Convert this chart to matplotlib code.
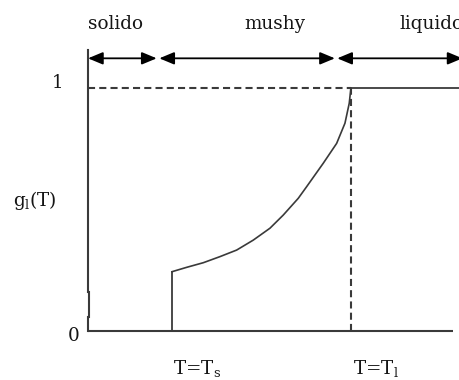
import matplotlib
matplotlib.use("Agg")
import matplotlib.pyplot as plt
from matplotlib.patches import FancyArrowPatch

plt.rcParams['font.family'] = ['DejaVu Serif']
plt.rcParams['mathtext.fontset'] = 'dejavuserif'

# solidus / liquidus temperatures (arbitrary units)
T_s = 1.0
T_l = 3.13
T_end = 4.35

# liquid fraction inside the mushy zone
T_mushy = [1.0, 1.175, 1.373, 1.571, 1.770, 1.968, 2.167, 2.325, 2.504,
           2.604, 2.801, 2.961, 3.060, 3.111, 3.131]
g_mushy = [0.244, 0.262, 0.281, 0.306, 0.333, 0.374, 0.423, 0.477, 0.546,
           0.594, 0.690, 0.772, 0.855, 0.937, 1.0]

zones = ['solido', 'mushy', 'liquido']
zone_bounds = [(0.0, 0.818), (0.849, 2.94), (2.968, 4.46)]
zone_label_x = [0.333, 2.22, 3.714]
zone_align = ['center', 'center', 'left']

line_c = '#3a3a3a'
text_c = '#151515'
dash = (0, (3.4, 2.0))
fs = 13.2

fig = plt.figure(figsize=(4.6, 3.8), dpi=100)
ax = fig.add_axes([0, 0, 1, 1])
ax.set_xlim(-1.048, 4.43)
ax.set_ylim(-0.2016, 1.362)
ax.axis('off')

# axes drawn by hand (small kink near the bottom of the y axis)
ax.plot([0, 0], [1.156, 0.16], color=line_c, lw=1.5)
ax.plot([0.012, 0.012], [0.16, 0.058], color=line_c, lw=1.5)
ax.plot([0, 0], [0.058, 0], color=line_c, lw=1.5)
ax.plot([0, T_end], [0, 0], color=line_c, lw=1.5, solid_capstyle='butt')

# g_l(T): zero, jump at T_s, curve, then 1 above T_l
ax.plot([T_s, T_s], [0, g_mushy[0]], color=line_c, lw=1.3)
ax.plot(T_mushy, g_mushy, color=line_c, lw=1.2, solid_joinstyle='round')
ax.plot([T_l, 4.45], [1, 1], color=line_c, lw=1.3)

ax.plot([0, T_l], [1, 1], color=line_c, lw=1.5, linestyle=dash)
ax.plot([T_l, T_l], [0, 1], color=line_c, lw=1.5, linestyle=dash)

# zone arrows and names
y_arr = 1.122
for name, (x0, x1), xl, ha in zip(zones, zone_bounds, zone_label_x, zone_align):
    arr = FancyArrowPatch((x0, y_arr), (x1, y_arr),
                          arrowstyle='<|-|>,head_length=0.6,head_width=0.25',
                          mutation_scale=15, shrinkA=0, shrinkB=0,
                          color='black', lw=1.3, clip_on=False)
    ax.add_patch(arr)
    ax.text(xl, 1.243, name, ha=ha, va='baseline', fontsize=fs, color=text_c)

ax.text(-0.357, 1.019, '1', ha='center', va='center', fontsize=fs, color=text_c)
ax.text(-0.167, -0.0185, '0', ha='center', va='center', fontsize=fs, color=text_c)
ax.text(-0.893, 0.539, r'g$_\mathrm{l}$(T)', ha='left', va='center',
        fontsize=fs, color=text_c)
ax.text(1.012, -0.178, r'T=T$_\mathrm{s}$', ha='left', va='baseline',
        fontsize=fs, color=text_c)
ax.text(3.155, -0.178, r'T=T$_\mathrm{l}$', ha='left', va='baseline',
        fontsize=fs, color=text_c)

fig.savefig('out.png', dpi=100)
